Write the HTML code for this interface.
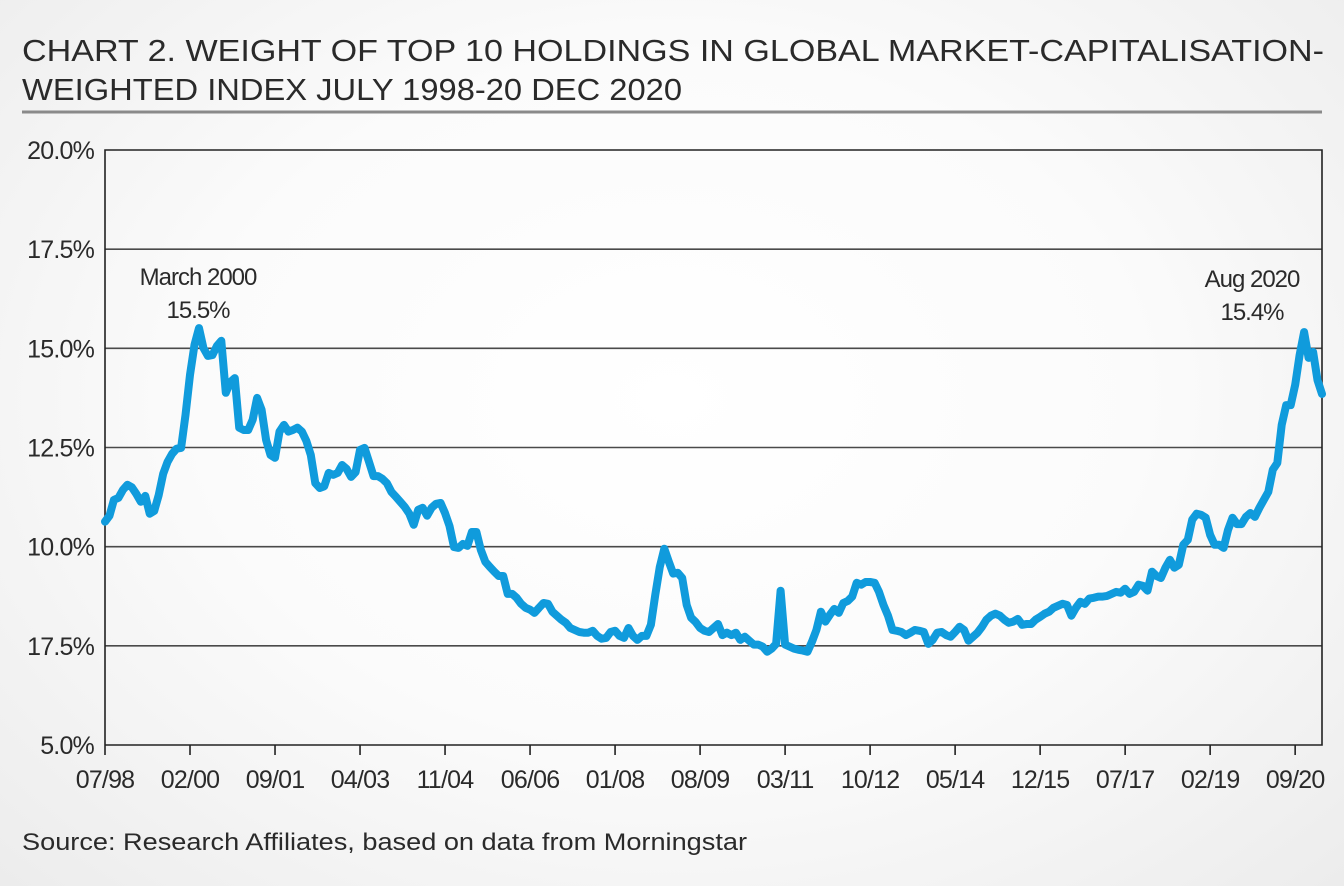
<!DOCTYPE html>
<html><head><meta charset="utf-8"><style>
html,body{margin:0;padding:0;width:1344px;height:886px;overflow:hidden;}
body{background:radial-gradient(ellipse at 50% 45%,#ffffff 0%,#fbfbfb 50%,#ececec 100%);font-family:"Liberation Sans",sans-serif;}
svg{display:block}
text{font-family:"Liberation Sans",sans-serif;fill:#2a2a2a;}
</style></head><body>
<svg id="chart" width="1344" height="886" viewBox="0 0 1344 886" xmlns="http://www.w3.org/2000/svg">
<text x="22" y="61" font-size="31" textLength="1302" lengthAdjust="spacingAndGlyphs">CHART 2. WEIGHT OF TOP 10 HOLDINGS IN GLOBAL MARKET-CAPITALISATION-</text>
<text x="22" y="100" font-size="31" textLength="660" lengthAdjust="spacingAndGlyphs">WEIGHTED INDEX JULY 1998-20 DEC 2020</text>
<line x1="22" y1="112" x2="1322" y2="112" stroke="#8a8a8a" stroke-width="3"/>
<g id="grid"></g>
<g id="yaxis"></g>
<g id="xaxis"></g>
<g id="series"></g>
<text x="198" y="285" font-size="24" text-anchor="middle" letter-spacing="-1">March 2000</text>
<text x="198" y="318" font-size="24" text-anchor="middle" letter-spacing="-1">15.5%</text>
<text x="1252" y="287" font-size="24" text-anchor="middle" letter-spacing="-1">Aug 2020</text>
<text x="1252" y="320" font-size="24" text-anchor="middle" letter-spacing="-1">15.4%</text>
<text x="22" y="850" font-size="24" textLength="725" lengthAdjust="spacingAndGlyphs">Source: Research Affiliates, based on data from Morningstar</text>
</svg>
<script>
const yTickValues = [20, 17.5, 15, 12.5, 10, 7.5, 5];
const yTickLabels = ["20.0%","17.5%","15.0%","12.5%","10.0%","17.5%","5.0%"];
const xTickMonths = [0,19,38,57,76,95,114,133,152,171,190,209,228,247,266];
const xTickLabels = ["07/98","02/00","09/01","04/03","11/04","06/06","01/08","08/09","03/11","10/12","05/14","12/15","07/17","02/19","09/20"];
const weights = [
10.63,10.78,11.18,11.23,11.43,11.56,11.5,11.33,11.13,11.28,10.83,10.9,11.3,11.84,12.14,12.34,12.47,12.49,13.32,14.33,
15.09,15.51,15.01,14.81,14.83,15.06,15.19,13.88,14.15,14.25,13.0,12.94,12.94,13.2,13.75,13.45,12.69,12.31,12.24,12.9,
13.07,12.9,12.94,13.0,12.9,12.67,12.31,11.6,11.48,11.52,11.86,11.81,11.86,12.06,11.96,11.76,11.88,12.44,12.49,12.14,
11.78,11.78,11.71,11.6,11.38,11.26,11.13,11.0,10.83,10.55,10.93,10.98,10.78,10.98,11.08,11.1,10.85,10.52,9.99,9.97,
10.07,10.02,10.37,10.37,9.92,9.62,9.49,9.37,9.26,9.26,8.81,8.81,8.71,8.56,8.46,8.41,8.33,8.46,8.58,8.56,
8.36,8.26,8.16,8.08,7.95,7.9,7.85,7.83,7.83,7.88,7.75,7.68,7.7,7.85,7.88,7.75,7.7,7.95,7.75,7.65,
7.75,7.75,8.03,8.79,9.49,9.95,9.62,9.32,9.34,9.21,8.53,8.21,8.1,7.95,7.88,7.85,7.95,8.05,7.77,7.83,
7.77,7.83,7.65,7.73,7.63,7.53,7.53,7.48,7.35,7.43,7.55,8.89,7.53,7.48,7.43,7.4,7.38,7.35,7.6,7.9,
8.36,8.11,8.28,8.43,8.33,8.58,8.63,8.74,9.09,9.04,9.11,9.11,9.09,8.86,8.53,8.26,7.9,7.88,7.85,7.77,
7.83,7.9,7.88,7.85,7.55,7.65,7.83,7.85,7.77,7.73,7.85,7.98,7.9,7.63,7.73,7.83,7.98,8.16,8.26,8.31,
8.26,8.16,8.08,8.11,8.18,8.03,8.05,8.05,8.16,8.23,8.31,8.36,8.46,8.51,8.56,8.53,8.26,8.46,8.61,8.56,
8.69,8.71,8.74,8.74,8.76,8.81,8.86,8.84,8.94,8.81,8.86,9.04,9.01,8.89,9.37,9.26,9.21,9.47,9.67,9.47,
9.54,10.05,10.17,10.68,10.83,10.8,10.73,10.3,10.05,10.05,9.97,10.42,10.73,10.57,10.57,10.75,10.85,10.75,10.98,11.18,
11.38,11.94,12.11,13.07,13.57,13.57,14.08,14.83,15.41,14.76,14.91,14.2,13.85
];
const NS = "http://www.w3.org/2000/svg";
const L = 105, R = 1322, T = 150, B = 745;
const xMax = weights.length - 1;
function xs(m){ return L + (m / xMax) * (R - L); }
function ys(v){ return B - (v - 5) / 15 * (B - T); }
function mk(tag, attrs, parent){ const e = document.createElementNS(NS, tag); for (const k in attrs) e.setAttribute(k, attrs[k]); parent.appendChild(e); return e; }
const grid = document.getElementById('grid');
const yaxis = document.getElementById('yaxis');
const xaxis = document.getElementById('xaxis');
const series = document.getElementById('series');
yTickValues.forEach((v, i) => {
  const y = ys(v);
  if (i > 0 && i < yTickValues.length - 1) {
    const g = mk('line', {x1: L, x2: R, y1: y, y2: y, stroke: '#4a4a4a', 'stroke-width': 1.6}, grid);
    
    
  }
  const t = mk('text', {x: 94, y: y + 9, 'font-size': 25, 'text-anchor': 'end', 'letter-spacing': '-0.8'}, yaxis);
  t.textContent = yTickLabels[i];
  
  
});
const frame = mk('path', {d: `M${L},${B} L${L},${T} L${R},${T} L${R},${B} L${L},${B}`, fill: 'none', stroke: '#222', 'stroke-width': 1.6}, grid);


xTickMonths.forEach((m, i) => {
  const x = xs(m);
  const tk = mk('line', {x1: x, x2: x, y1: B, y2: B + 10, stroke: '#222', 'stroke-width': 1.6}, xaxis);
  
  
  const t = mk('text', {x: x, y: 788, 'font-size': 25, 'text-anchor': 'middle', 'letter-spacing': '-0.8'}, xaxis);
  t.textContent = xTickLabels[i];
  
  
});
const d = weights.map((v, i) => (i ? 'L' : 'M') + xs(i).toFixed(1) + ',' + ys(v).toFixed(1)).join(' ');
const line = mk('path', {d: d, fill: 'none', stroke: '#109bdc', 'stroke-width': 8, 'stroke-linejoin': 'round', 'stroke-linecap': 'round'}, series);


</script>
</body></html>
